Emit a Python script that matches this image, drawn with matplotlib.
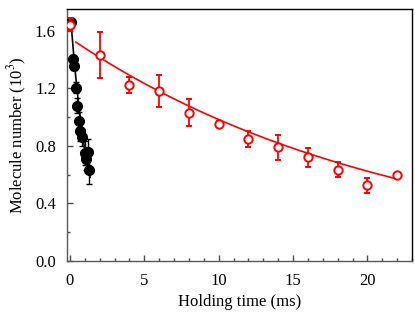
import numpy as np
import matplotlib
matplotlib.use("Agg")
import matplotlib.pyplot as plt
from matplotlib.ticker import MultipleLocator

plt.rcParams['font.family'] = ['Liberation Serif', 'DejaVu Serif']
plt.rcParams['mathtext.fontset'] = 'stix'

# red: open circles, long holding
t_red = [0, 2, 4, 6, 8, 10, 12, 14, 16, 18, 20, 22]
n_red = [1.64, 1.43, 1.22, 1.18, 1.03, 0.95, 0.85, 0.79, 0.72, 0.635, 0.525, 0.595]
e_red = [0.045, 0.16, 0.055, 0.11, 0.095, 0.02, 0.055, 0.087, 0.065, 0.05, 0.05, 0.01]

# black: filled circles, short holding
t_blk = [0.05, 0.2, 0.3, 0.4, 0.5, 0.6, 0.7, 0.8, 1.0, 1.1, 1.2, 1.3]
n_blk = [1.66, 1.40, 1.355, 1.205, 1.08, 0.975, 0.90, 0.86, 0.75, 0.71, 0.755, 0.635]
e_blk = [0.02, 0.03, 0.03, 0.04, 0.05, 0.06, 0.07, 0.06, 0.08, 0.08, 0.09, 0.1]

# exponential fit parameters (amplitude, 1/e time in ms, range)
fit_red = (1.548, 22.0, 0.4, 22.0)
fit_blk = (1.76, 1.22, 0.12, 1.35)

fig = plt.figure(figsize=(4.15, 3.12), dpi=100)
ax = fig.add_axes([0.1614, 0.1635, 0.8314, 0.8075])

for (A, tau, t0, t1), col in [(fit_red, 'red'), (fit_blk, 'black')]:
    tt = np.linspace(t0, t1, 200)
    ax.plot(tt, A * np.exp(-tt / tau), color=col, lw=1.2, zorder=2)

ax.errorbar(t_blk, n_blk, yerr=e_blk, fmt='o', color='black', ms=7,
            ecolor='black', elinewidth=1.0, capsize=2, capthick=1.0, zorder=3)
ax.errorbar(t_red, n_red, yerr=e_red, fmt='o', color='red', mfc='white',
            mec='red', mew=1.4, ms=6, ecolor='red', elinewidth=1.3,
            capsize=2.5, capthick=1.3, zorder=4)

ax.set_xlim(-0.2, 23)
ax.set_ylim(0, 1.75)
ax.xaxis.set_major_locator(MultipleLocator(5))
ax.xaxis.set_minor_locator(MultipleLocator(1))
ax.yaxis.set_major_locator(MultipleLocator(0.4))
ax.yaxis.set_minor_locator(MultipleLocator(0.2))
ax.yaxis.set_major_formatter(matplotlib.ticker.FormatStrFormatter('%.1f'))
ax.tick_params(which='both', direction='in', top=False, right=False,
               labelsize=12, color='0.3')
ax.tick_params(axis='x', which='major', pad=9)
ax.tick_params(axis='y', which='major', pad=8)
ax.tick_params(which='major', length=4, width=1)
ax.tick_params(which='minor', length=2.5, width=1)
for s in ax.spines.values():
    s.set_linewidth(1.0)
ax.spines['left'].set_color('0.35')
ax.spines['bottom'].set_color('0.35')

ax.set_xlabel('Holding time (ms)', fontsize=12, labelpad=3)
ax.set_ylabel('Molecule number (10$^3$)', fontsize=12, labelpad=4)

fig.savefig('out.png', dpi=100)
